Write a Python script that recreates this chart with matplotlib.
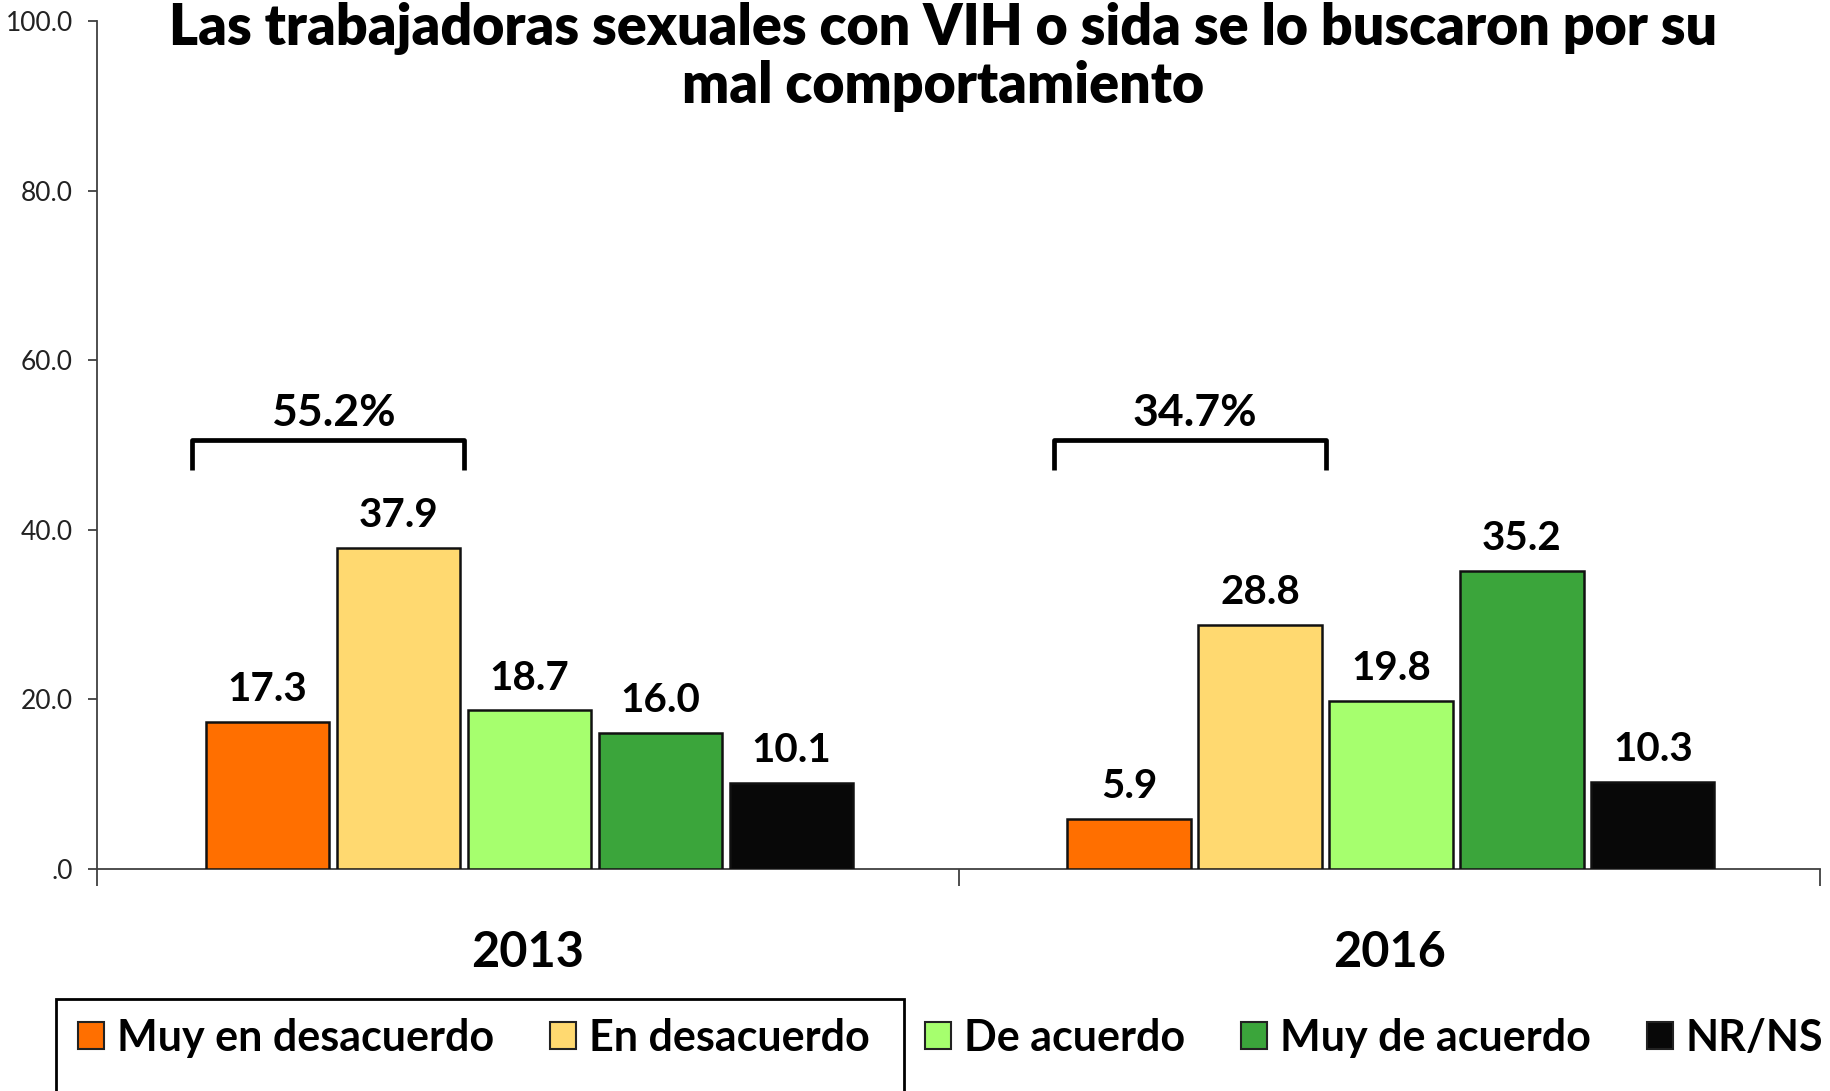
import numpy as np
import matplotlib
matplotlib.use("Agg")
import matplotlib.pyplot as plt
from matplotlib.patches import Patch, Rectangle

plt.rcParams['font.family'] = ['Lato', 'DejaVu Sans']

# datos
anios = ["2013", "2016"]
categorias = ["Muy en desacuerdo", "En desacuerdo", "De acuerdo", "Muy de acuerdo", "NR/NS"]
valores = {
    "Muy en desacuerdo": [17.3, 5.9],
    "En desacuerdo": [37.9, 28.8],
    "De acuerdo": [18.7, 19.8],
    "Muy de acuerdo": [16.0, 35.2],
    "NR/NS": [10.1, 10.3],
}
colores = ["#FF6F00", "#FFD970", "#A6FF6E", "#3BA53B", "#080808"]
yticks = [0, 20, 40, 60, 80, 100]
ytick_labels = [".0", "20.0", "40.0", "60.0", "80.0", "100.0"]
titulo = "Las trabajadoras sexuales con VIH o sida se lo buscaron por su\nmal comportamiento"

W, H = 1830, 1091
fig = plt.figure(figsize=(W / 100, H / 100), dpi=100)
ax = fig.add_axes([97 / W, 1 - 869 / H, (1820 - 97) / W, (869 - 21) / H])

x = np.arange(len(anios))
paso = 0.152
ancho = 0.143

for i, cat in enumerate(categorias):
    pos = x + 0.002 + (i - 2) * paso
    ax.bar(pos, valores[cat], ancho, color=colores[i],
           edgecolor="#111111", linewidth=1.8, label=cat, zorder=3)
    for xb, v in zip(pos, valores[cat]):
        ax.annotate(f"{v:.1f}", (xb, v), xytext=(0, 10), textcoords="offset points",
                    ha="center", va="bottom", fontsize=29, fontweight="bold")

# llaves con suma de "en desacuerdo"
for j in range(len(anios)):
    izq = x[j] - 2 * paso - ancho / 2 - 0.014
    der = x[j] - paso + ancho / 2 + 0.007
    total = valores["Muy en desacuerdo"][j] + valores["En desacuerdo"][j]
    ax.plot([izq, izq, der, der], [47.1, 50.6, 50.6, 47.1], color="black",
            linewidth=3.4, solid_joinstyle="round", solid_capstyle="butt", clip_on=False)
    ax.text((izq + der) / 2 + 0.006, 51.4, f"{total:.1f}%", ha="center", va="bottom",
            fontsize=32, fontweight="bold")

ax.set_xlim(-0.5, 1.5)
ax.set_ylim(0, 100)
ax.set_yticks(yticks)
ax.set_yticklabels(ytick_labels)
ax.set_xticks(x)
ax.set_xticklabels(anios, fontsize=35, fontweight="bold")
ax.set_xticks([-0.5, 0.5, 1.5], minor=True)
ax.tick_params(axis="x", which="major", length=0, pad=44)
ax.tick_params(axis="x", which="minor", length=12, width=1.3, color="#404040", direction="out")
ax.tick_params(axis="y", length=6.5, width=1.3, color="#404040", pad=11, labelsize=19,
               labelcolor="#222222")

for s in ["top", "right"]:
    ax.spines[s].set_visible(False)
for s in ["left", "bottom"]:
    ax.spines[s].set_color("#404040")
    ax.spines[s].set_linewidth(1.3)

fig.text(943 / W, 1 - 2 / H, titulo, ha="center", va="top", fontsize=40,
         fontweight="heavy", linespacing=1.12)

# leyenda
fig.patches.append(Rectangle((56 / W, -0.05), (904 - 56) / W, 0.05 + 1 - 999 / H,
                             transform=fig.transFigure, fill=False,
                             edgecolor="black", linewidth=2))
handles = [Patch(facecolor=c, edgecolor="#222222", linewidth=1.5) for c in colores]
leg = fig.legend(handles, categorias, loc="center left", bbox_to_anchor=(78 / W, 1 - 1038 / H),
                 ncol=5, frameon=False, borderpad=0, borderaxespad=0,
                 handlelength=0.6, handleheight=0.6, handletextpad=0.3,
                 columnspacing=1.3, prop={"size": 31, "weight": "bold"})

fig.savefig("out.png", dpi=100)
